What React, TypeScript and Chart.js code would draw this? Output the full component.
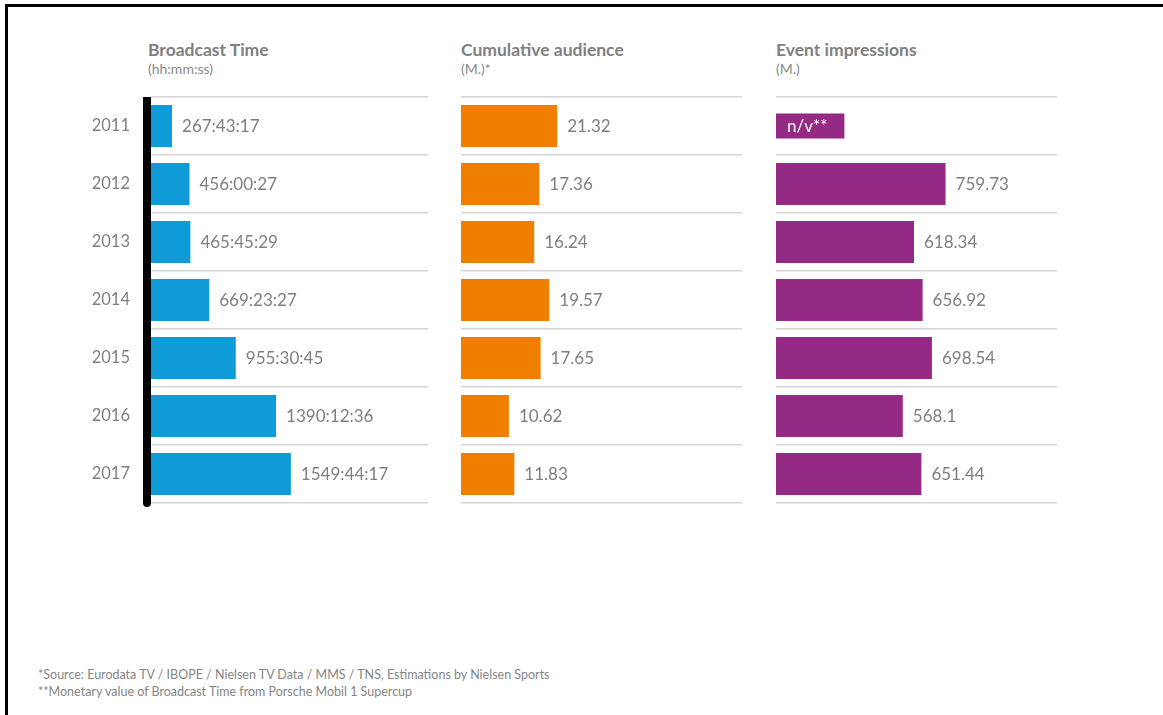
import React, { useEffect, useRef } from "react";
import { Chart, registerables } from "chart.js";

Chart.register(...registerables);

// ---------- data ----------
const years = ["2011", "2012", "2013", "2014", "2015", "2016", "2017"];
const broadcastLabels = ["267:43:17", "456:00:27", "465:45:29", "669:23:27", "955:30:45", "1390:12:36", "1549:44:17"];
const broadcastHours = [267.72, 456.01, 465.76, 669.39, 955.51, 1390.21, 1549.74];
const audienceValues = [21.32, 17.36, 16.24, 19.57, 17.65, 10.62, 11.83];
const audienceLabels = ["21.32", "17.36", "16.24", "19.57", "17.65", "10.62", "11.83"];
const impressionValues: (number | null)[] = [null, 759.73, 618.34, 656.92, 698.54, 568.1, 651.44];
const impressionLabels = ["", "759.73", "618.34", "656.92", "698.54", "568.1", "651.44"];
const naLabel = "n/v**";

const panelTitles = ["Broadcast Time", "Cumulative audience", "Event impressions"];
const panelSubtitles = ["(hh:mm:ss)", "(M.)*", "(M.)"];
const footnotes = [
  "*Source: Eurodata TV / IBOPE / Nielsen TV Data / MMS / TNS, Estimations by Nielsen Sports",
  "**Monetary value of Broadcast Time from Porsche Mobil 1 Supercup",
];

// ---------- styles ----------
const FONT = "Lato, 'Noto Sans', sans-serif";
const GREY = "#7f7f7f";
const BLUE = "#0e9bd7";
const ORANGE = "#f07f00";
const PURPLE = "#952a85";

const valueLabelPlugin = {
  id: "valueLabels",
  afterDatasetsDraw(chart: any, _args: any, opts: any) {
    const { ctx } = chart;
    const meta = chart.getDatasetMeta(0);
    const data = chart.data.datasets[0].data;
    const yScale = chart.scales.y;
    ctx.save();
    ctx.textBaseline = "middle";
    ctx.font = `17px ${FONT}`;
    data.forEach((v: number | null, i: number) => {
      const y = yScale.getPixelForValue(i);
      if (v == null) {
        const left = chart.chartArea.left;
        const tw = ctx.measureText(naLabel).width;
        ctx.fillStyle = opts.naColor;
        ctx.fillRect(left, y - 12.5, tw + 28, 25);
        ctx.fillStyle = "#ffffff";
        ctx.fillText(naLabel, left + 11, y + 0.5);
      } else {
        const bar = meta.data[i];
        ctx.fillStyle = GREY;
        ctx.fillText(opts.labels[i], bar.x + 10, y + 0.5);
      }
    });
    if (opts.axisLine) {
      const { left, top, bottom } = chart.chartArea;
      ctx.fillStyle = "#000000";
      ctx.fillRect(left - 8, top, 8, bottom - top);
      ctx.beginPath();
      ctx.arc(left - 4, bottom, 4, 0, Math.PI);
      ctx.fill();
    }
    ctx.restore();
  },
};

type PanelProps = {
  values: (number | null)[];
  labels: string[];
  color: string;
  min: number;
  max: number;
  left: number;
  width: number;
  axisWidth: number;
  padLeft: number;
  padRight: number;
  showYears: boolean;
};

function Panel(p: PanelProps) {
  const ref = useRef<HTMLCanvasElement | null>(null);
  useEffect(() => {
    if (!ref.current) return;
    const chart = new Chart(ref.current, {
      type: "bar",
      data: {
        labels: years,
        datasets: [
          {
            data: p.values as any,
            backgroundColor: p.color,
            borderWidth: 0,
            barPercentage: 1,
            categoryPercentage: 0.724,
          },
        ],
      },
      options: {
        indexAxis: "y",
        responsive: false,
        animation: false,
        devicePixelRatio: 1,
        layout: { padding: { top: 7, bottom: 7, left: p.padLeft, right: p.padRight } },
        plugins: {
          legend: { display: false },
          tooltip: { enabled: false },
          valueLabels: { labels: p.labels, naColor: p.color, axisLine: p.showYears },
        } as any,
        scales: {
          x: { display: false, min: p.min, max: p.max },
          y: {
            display: true,
            offset: true,
            border: { display: false },
            grid: { offset: true, color: "#d5d5d5", lineWidth: 1.5, drawTicks: false },
            ticks: {
              display: p.showYears,
              color: GREY,
              padding: 21,
              font: { family: FONT, size: 16.5 },
            },
            afterFit: (scale: any) => {
              scale.width = p.axisWidth;
              scale.paddingTop = 0;
              scale.paddingBottom = 0;
            },
          },
        },
      },
      plugins: [valueLabelPlugin as any],
    });
    return () => chart.destroy();
  }, []);
  return (
    <canvas
      ref={ref}
      width={p.width}
      height={420}
      style={{ position: "absolute", left: p.left, top: 90, width: p.width, height: 420 }}
    />
  );
}

const titleLefts = [148, 461, 776];

export default function App() {
  return (
    <div
      style={{
        position: "absolute",
        left: 0,
        top: 0,
        width: 1163,
        height: 715,
        background: "#ffffff",
        overflow: "hidden",
        fontFamily: FONT,
      }}
    >
      <div
        style={{
          position: "absolute",
          left: 5,
          top: 4,
          width: 1170,
          height: 730,
          borderTop: "3px solid #000",
          borderLeft: "3px solid #000",
        }}
      />
      {panelTitles.map((t, i) => (
        <React.Fragment key={t}>
          <div
            style={{
              position: "absolute",
              left: titleLefts[i],
              top: 41,
              fontSize: 17.5,
              lineHeight: "18px",
              fontWeight: 700,
              color: GREY,
              whiteSpace: "nowrap",
            }}
          >
            {t}
          </div>
          <div
            style={{
              position: "absolute",
              left: titleLefts[i],
              top: 62,
              fontSize: 14,
              lineHeight: "14px",
              color: "#8a8a8a",
              whiteSpace: "nowrap",
            }}
          >
            {panelSubtitles[i]}
          </div>
        </React.Fragment>
      ))}
      <Panel
        values={broadcastHours}
        labels={broadcastLabels}
        color={BLUE}
        min={41}
        max={3029}
        left={50}
        width={390}
        axisWidth={101}
        padLeft={0}
        padRight={12}
        showYears={true}
      />
      <Panel
        values={audienceValues}
        labels={audienceLabels}
        color={ORANGE}
        min={0}
        max={62.3}
        left={440}
        width={320}
        axisWidth={0}
        padLeft={21}
        padRight={18}
        showYears={false}
      />
      <Panel
        values={impressionValues}
        labels={impressionLabels}
        color={PURPLE}
        min={0}
        max={1259}
        left={760}
        width={320}
        axisWidth={0}
        padLeft={16}
        padRight={23}
        showYears={false}
      />
      {footnotes.map((f, i) => (
        <div
          key={i}
          style={{
            position: "absolute",
            left: 38,
            top: 668 + i * 17,
            fontSize: 12.5,
            lineHeight: "14px",
            color: "#858585",
            whiteSpace: "nowrap",
          }}
        >
          {f}
        </div>
      ))}
    </div>
  );
}
